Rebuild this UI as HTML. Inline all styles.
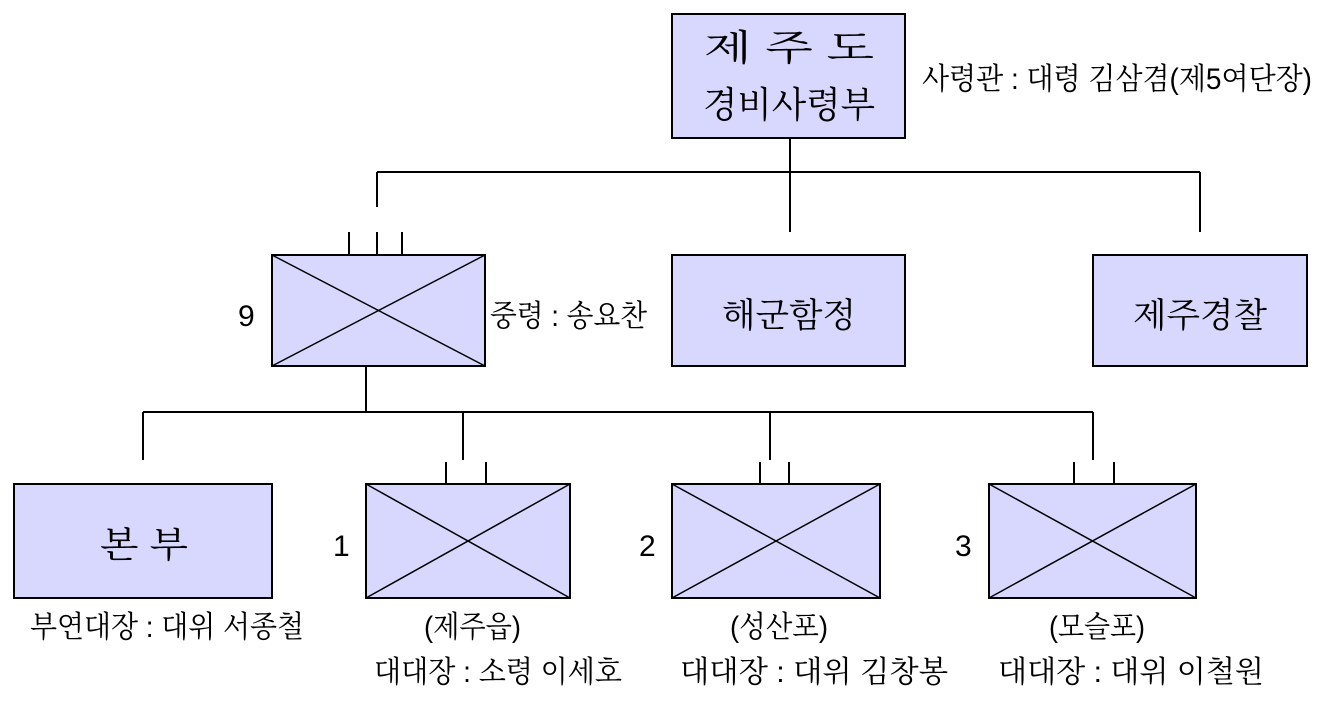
<!DOCTYPE html>
<html><head><meta charset="utf-8"><style>
html,body{margin:0;padding:0;background:#fff;}
svg{display:block;}
text{font-family:"Liberation Sans","Noto Serif CJK SC","Noto Sans CJK KR",serif;fill:#000;}
</style></head><body>
<svg width="1326" height="701" viewBox="0 0 1326 701" xmlns="http://www.w3.org/2000/svg">
<g stroke="#000" stroke-width="2" fill="none">
<line x1="790" y1="138" x2="790" y2="232"/>
<line x1="377" y1="172" x2="1200" y2="172"/>
<line x1="377" y1="172" x2="377" y2="207"/>
<line x1="1200" y1="172" x2="1200" y2="232"/>
<line x1="349" y1="232" x2="349" y2="255"/>
<line x1="377" y1="232" x2="377" y2="255"/>
<line x1="402" y1="232" x2="402" y2="255"/>
<line x1="366" y1="366" x2="366" y2="412"/>
<line x1="143" y1="412" x2="1093" y2="412"/>
<line x1="143" y1="412" x2="143" y2="460"/>
<line x1="463" y1="412" x2="463" y2="460"/>
<line x1="770" y1="412" x2="770" y2="460"/>
<line x1="1093" y1="412" x2="1093" y2="460"/>
<line x1="446" y1="462" x2="446" y2="484"/>
<line x1="486" y1="462" x2="486" y2="484"/>
<line x1="760" y1="462" x2="760" y2="484"/>
<line x1="789" y1="462" x2="789" y2="484"/>
<line x1="1074" y1="462" x2="1074" y2="484"/>
<line x1="1114" y1="462" x2="1114" y2="484"/>
</g>
<g stroke="#000" stroke-width="2" fill="#d8d8ff">
<rect x="672" y="14" width="233" height="124"/>
<rect x="272" y="255" width="213" height="111"/>
<rect x="672" y="255" width="233" height="111"/>
<rect x="1093" y="255" width="214" height="111"/>
<rect x="14" y="484" width="258" height="114"/>
<rect x="366" y="484" width="204" height="114"/>
<rect x="672" y="484" width="208" height="114"/>
<rect x="989" y="484" width="207" height="114"/>
</g>
<g stroke="#000" stroke-width="1.5">
<line x1="272" y1="255" x2="485" y2="366"/><line x1="485" y1="255" x2="272" y2="366"/>
<line x1="366" y1="484" x2="570" y2="598"/><line x1="570" y1="484" x2="366" y2="598"/>
<line x1="672" y1="484" x2="880" y2="598"/><line x1="880" y1="484" x2="672" y2="598"/>
<line x1="989" y1="484" x2="1196" y2="598"/><line x1="1196" y1="484" x2="989" y2="598"/>
</g>
<text x="704" y="60" font-size="36" textLength="170" lengthAdjust="spacingAndGlyphs">제 주 도</text>
<text x="703" y="117" font-size="36" textLength="172" lengthAdjust="spacingAndGlyphs">경비사령부</text>
<text x="922" y="89" font-size="30" textLength="390" lengthAdjust="spacingAndGlyphs">사령관 : 대령  김삼겸(제5여단장)</text>
<text x="238" y="326" font-size="30">9</text>
<text x="490" y="326" font-size="30" textLength="157" lengthAdjust="spacingAndGlyphs">중령 : 송요찬</text>
<text x="722" y="327" font-size="34" textLength="134" lengthAdjust="spacingAndGlyphs">해군함정</text>
<text x="1133" y="327" font-size="34" textLength="134" lengthAdjust="spacingAndGlyphs">제주경찰</text>
<text x="100" y="557" font-size="36" textLength="88" lengthAdjust="spacingAndGlyphs">본 부</text>
<text x="333" y="556" font-size="30">1</text>
<text x="639" y="556" font-size="30">2</text>
<text x="955" y="556" font-size="30">3</text>
<text x="30" y="637" font-size="30" textLength="274" lengthAdjust="spacingAndGlyphs">부연대장 : 대위  서종철</text>
<text x="424" y="637" font-size="30" textLength="97" lengthAdjust="spacingAndGlyphs">(제주읍)</text>
<text x="374" y="682" font-size="30" textLength="248" lengthAdjust="spacingAndGlyphs">대대장 : 소령  이세호</text>
<text x="730" y="637" font-size="30" textLength="98" lengthAdjust="spacingAndGlyphs">(성산포)</text>
<text x="680" y="682" font-size="30" textLength="268" lengthAdjust="spacingAndGlyphs">대대장 :    대위  김창봉</text>
<text x="1049" y="637" font-size="30" textLength="96" lengthAdjust="spacingAndGlyphs">(모슬포)</text>
<text x="998" y="682" font-size="30" textLength="266" lengthAdjust="spacingAndGlyphs">대대장 :    대위  이철원</text>
</svg>
</body></html>
